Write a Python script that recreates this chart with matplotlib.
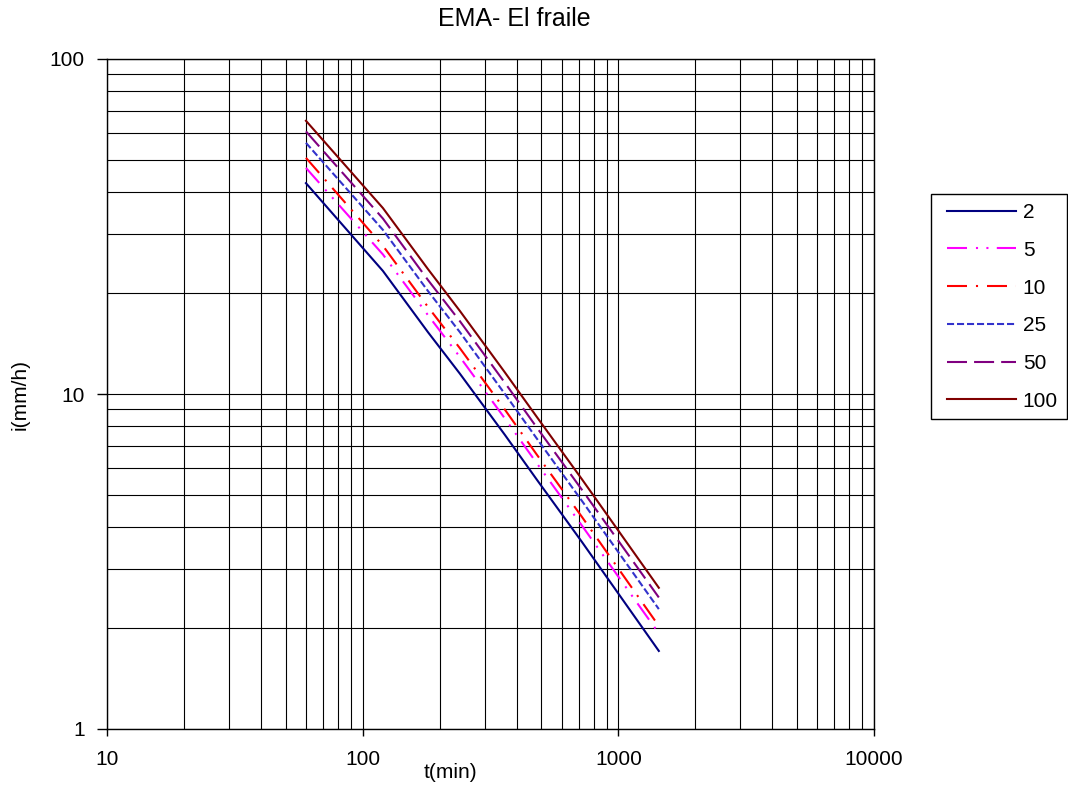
import matplotlib
matplotlib.use("Agg")
import matplotlib.pyplot as plt
from matplotlib.ticker import FixedLocator, FixedFormatter, NullLocator
from matplotlib.patches import Rectangle

plt.rcParams['font.family'] = ['Liberation Sans', 'DejaVu Sans']

# Durations (min)
t = [60, 120, 180, 240, 360, 480, 720, 1440]
# Intensities (mm/h) per return period
i_2 = [42.6, 23.3, 15.3, 11.5, 7.55, 5.55, 3.62, 1.71]
i_5 = [47.3, 26.1, 17.2, 12.9, 8.45, 6.21, 4.05, 1.93]
i_10 = [50.7, 27.7, 18.2, 13.7, 8.98, 6.59, 4.30, 2.03]
i_25 = [56.2, 30.9, 20.3, 15.3, 10.0, 7.36, 4.80, 2.28]
i_50 = [60.8, 33.4, 21.9, 16.5, 10.8, 7.94, 5.18, 2.47]
i_100 = [65.4, 35.9, 23.6, 17.7, 11.6, 8.54, 5.57, 2.64]

series_labels = ["2", "5", "10", "25", "50", "100"]
x_ticks = [10, 100, 1000, 10000]
y_ticks = [1, 10, 100]

W, H = 1068, 789
fig = plt.figure(figsize=(W/100, H/100), dpi=100)
ax = fig.add_axes([107/W, 1-729/H, (874-107)/W, (729-59)/H])
ax.set_xscale('log')
ax.set_yscale('log')
ax.set_xlim(10, 10000)
ax.set_ylim(1, 100)

# grid lines at every decade subdivision
xg = [m * 10**e for e in range(1, 4) for m in range(1, 10)] + [10000]
yg = [m * 10**e for e in range(0, 2) for m in range(1, 10)] + [100]
for v in xg:
    ax.axvline(v, color='black', lw=0.8, zorder=1)
for v in yg:
    ax.axhline(v, color='black', lw=0.8, zorder=1)

lw = 1.5
styles = [
    dict(color='#000080', ls='-'),
    dict(color='#FF00FF', ls=(0, (9.6, 4.3, 1, 4, 1, 4))),
    dict(color='#FF0000', ls=(0, (9.6, 4.3, 1, 4.3))),
    dict(color='#3333CC', ls=(0, (3.4, 1.4))),
    dict(color='#800080', ls=(0, (9.6, 3.4))),
    dict(color='#800000', ls='-'),
]
data = [i_2, i_5, i_10, i_25, i_50, i_100]
handles = []
for ys, lab, st in zip(data, series_labels, styles):
    h, = ax.plot(t, ys, lw=lw, label=lab, zorder=3, **st)
    handles.append(h)

ax.xaxis.set_major_locator(FixedLocator(x_ticks))
ax.xaxis.set_major_formatter(FixedFormatter([str(v) for v in x_ticks]))
ax.yaxis.set_major_locator(FixedLocator(y_ticks))
ax.yaxis.set_major_formatter(FixedFormatter([str(v) for v in y_ticks]))
ax.xaxis.set_minor_locator(NullLocator())
ax.yaxis.set_minor_locator(NullLocator())
ax.tick_params(axis='x', direction='out', length=5, width=1, pad=10, labelsize=15)
ax.tick_params(axis='y', direction='out', length=7, width=1, pad=9, labelsize=15)
for s in ax.spines.values():
    s.set_color('black')
    s.set_linewidth(1)

fig.text(450/W, 1-772/H, 't(min)', ha='center', va='center', fontsize=15)
fig.text(20/W, 1-394/H, 'i(mm/h)', ha='center', va='center', fontsize=15, rotation=90)
fig.text(514/W, 1-19/H, 'EMA- El fraile', ha='center', va='center', fontsize=18)

# legend box
fig.patches.append(Rectangle((930.5/W, 1-419/H), (1067-930.5)/W, (419-194)/H,
                             transform=fig.transFigure, fill=False,
                             edgecolor='black', lw=1))
leg = fig.legend(handles=handles, labels=series_labels, loc='upper left',
                 bbox_to_anchor=(947/W, 1-203/H), fontsize=15,
                 frameon=False, handlelength=3.3, handletextpad=0.34,
                 labelspacing=0.9, borderpad=0, borderaxespad=0)

fig.savefig('out.png', dpi=100)
